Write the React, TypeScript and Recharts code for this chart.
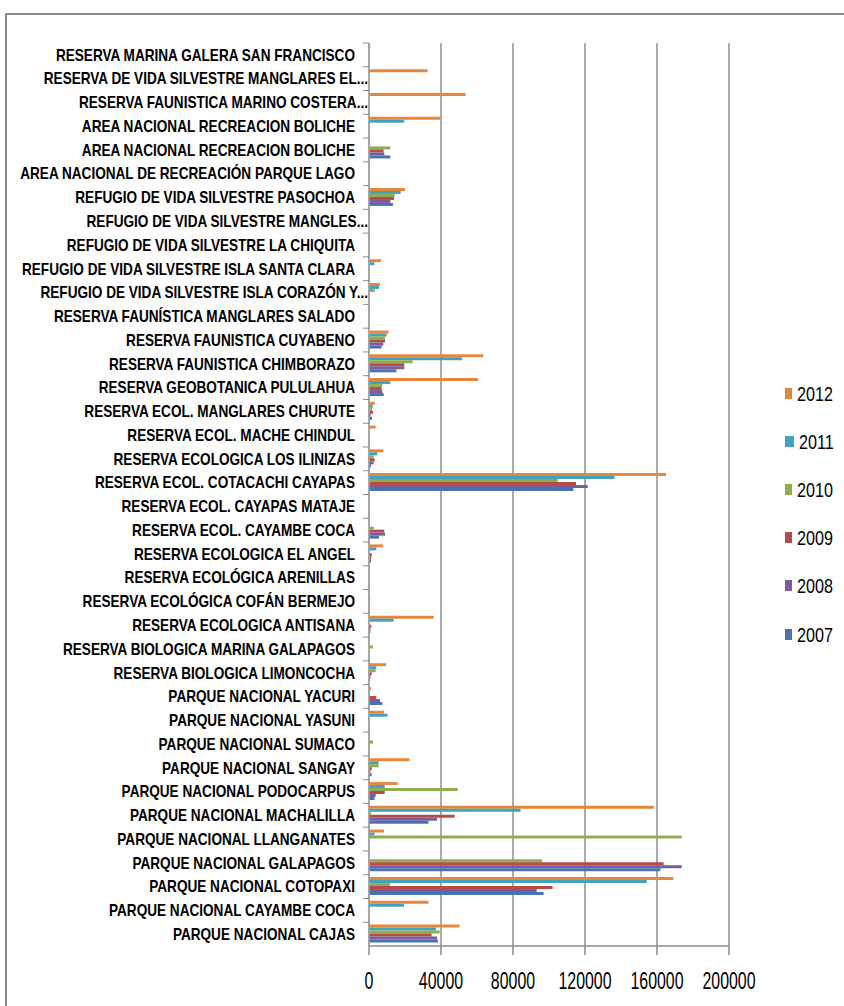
import React from 'react';
import { BarChart, Bar, XAxis, YAxis, CartesianGrid, Legend } from 'recharts';

// Visitors per protected area (top to bottom)
const categories = [
  'RESERVA MARINA GALERA SAN FRANCISCO',
  'RESERVA DE VIDA SILVESTRE MANGLARES EL...',
  'RESERVA FAUNISTICA MARINO COSTERA...',
  'AREA NACIONAL RECREACION BOLICHE',
  'AREA NACIONAL RECREACION BOLICHE',
  'AREA NACIONAL DE RECREACIÓN PARQUE LAGO',
  'REFUGIO DE VIDA SILVESTRE PASOCHOA',
  'REFUGIO DE VIDA SILVESTRE MANGLES...',
  'REFUGIO DE VIDA SILVESTRE LA CHIQUITA',
  'REFUGIO DE VIDA SILVESTRE ISLA SANTA CLARA',
  'REFUGIO DE VIDA SILVESTRE ISLA CORAZÓN Y...',
  'RESERVA FAUNÍSTICA MANGLARES SALADO',
  'RESERVA FAUNISTICA CUYABENO',
  'RESERVA FAUNISTICA CHIMBORAZO',
  'RESERVA GEOBOTANICA PULULAHUA',
  'RESERVA ECOL. MANGLARES CHURUTE',
  'RESERVA ECOL. MACHE CHINDUL',
  'RESERVA ECOLOGICA LOS ILINIZAS',
  'RESERVA ECOL. COTACACHI CAYAPAS',
  'RESERVA ECOL. CAYAPAS MATAJE',
  'RESERVA ECOL. CAYAMBE COCA',
  'RESERVA ECOLOGICA EL ANGEL',
  'RESERVA ECOLÓGICA ARENILLAS',
  'RESERVA ECOLÓGICA COFÁN BERMEJO',
  'RESERVA ECOLOGICA ANTISANA',
  'RESERVA BIOLOGICA MARINA GALAPAGOS',
  'RESERVA BIOLOGICA LIMONCOCHA',
  'PARQUE NACIONAL YACURI',
  'PARQUE NACIONAL YASUNI',
  'PARQUE NACIONAL SUMACO',
  'PARQUE NACIONAL SANGAY',
  'PARQUE NACIONAL PODOCARPUS',
  'PARQUE NACIONAL MACHALILLA',
  'PARQUE NACIONAL LLANGANATES',
  'PARQUE NACIONAL GALAPAGOS',
  'PARQUE NACIONAL COTOPAXI',
  'PARQUE NACIONAL CAYAMBE COCA',
  'PARQUE NACIONAL CAJAS',
];

const v2012 = [700, 32600, 53700, 39400, 0, 0, 20000, 0, 0, 6700, 6100, 0, 10900, 63500, 60550, 3150, 3700, 7950, 165000, 0, 0, 7800, 0, 0, 35900, 0, 9450, 1100, 8350, 0, 22400, 15900, 158300, 8350, 0, 169100, 33000, 50350];
const v2011 = [0, 0, 0, 19600, 0, 0, 17600, 0, 0, 3000, 5550, 0, 9800, 51700, 11850, 2050, 0, 4600, 136300, 0, 0, 4050, 0, 0, 13700, 0, 4050, 0, 10350, 0, 5350, 8700, 84250, 3000, 0, 154300, 19450, 37200];
const v2010 = [0, 0, 0, 0, 11850, 0, 14250, 0, 0, 0, 3150, 0, 8900, 24250, 7400, 1650, 0, 2600, 104800, 0, 2600, 0, 0, 700, 0, 2200, 3700, 0, 0, 2200, 5350, 49250, 1100, 173700, 96100, 11650, 0, 39250];
const v2009 = [0, 0, 0, 0, 8150, 0, 13900, 0, 0, 0, 0, 0, 8900, 19600, 7000, 2200, 0, 3150, 115000, 0, 8500, 1650, 0, 0, 1300, 0, 1500, 4050, 0, 0, 1500, 8700, 47600, 0, 163700, 102000, 0, 34800];
const v2008 = [0, 0, 0, 0, 8500, 0, 11850, 0, 0, 0, 0, 0, 7950, 19600, 7400, 900, 0, 2600, 121500, 0, 8900, 1100, 0, 0, 900, 0, 900, 6100, 0, 0, 750, 3700, 37800, 0, 173700, 93150, 0, 37800];
const v2007 = [0, 0, 0, 0, 11850, 0, 13300, 0, 0, 0, 0, 0, 7000, 15200, 8150, 1650, 0, 1100, 113500, 0, 5550, 1100, 0, 0, 700, 0, 550, 7400, 0, 0, 1500, 3000, 33000, 0, 161900, 97000, 0, 38300];

const xTicks = [0, 40000, 80000, 120000, 160000, 200000];

const rows = categories.map((name, i) => ({
  name,
  y2012: v2012[i],
  y2011: v2011[i],
  y2010: v2010[i],
  y2009: v2009[i],
  y2008: v2008[i],
  y2007: v2007[i],
}));

const series = [
  { key: 'y2012', label: '2012', color: '#E6873C' },
  { key: 'y2011', label: '2011', color: '#41A3BC' },
  { key: 'y2010', label: '2010', color: '#8DAD4F' },
  { key: 'y2009', label: '2009', color: '#B84A47' },
  { key: 'y2008', label: '2008', color: '#7B5D9D' },
  { key: 'y2007', label: '2007', color: '#4774B0' },
];

const FONT = '"Liberation Sans", Arial, sans-serif';
const PLOT_TOP = 43;
const PLOT_BOTTOM = 946;
const BAND = (PLOT_BOTTOM - PLOT_TOP) / categories.length;

const CategoryTick = (props: any) => {
  const { y, payload } = props;
  const label: string = payload.value;
  const anchor = label.endsWith('...') ? 368 : 355;
  return (
    <g>
      <line x1={363} x2={369} y1={y - BAND / 2} y2={y - BAND / 2} stroke="#8c8c8c" strokeWidth={1} />
      <text
        transform={`translate(${anchor},${y + 5.8}) scale(0.85,1)`}
        textAnchor="end"
        fontFamily={FONT}
        fontWeight="bold"
        fontSize={16}
        fill="#000"
      >
        {label}
      </text>
    </g>
  );
};

const ValueTick = (props: any) => {
  const { x, y, payload } = props;
  return (
    <text
      transform={`translate(${x},${y + 32}) scale(0.65,1)`}
      textAnchor="middle"
      fontFamily={FONT}
      fontSize={24.5}
      fill="#000"
    >
      {payload.value}
    </text>
  );
};

const renderLegend = (props: any) => {
  // newest year on top, like the original
  const items = [...(props.payload || [])].sort((a: any, b: any) => String(b.value).localeCompare(String(a.value)));
  return (
    <div>
      {items.map((entry: any) => (
        <div key={entry.value} style={{ height: 48.2, display: 'flex', alignItems: 'center' }}>
          <span style={{ display: 'inline-block', width: 10, height: 11, background: entry.color, marginRight: 5 }} />
          <span
            style={{
              display: 'inline-block',
              fontFamily: FONT,
              fontSize: 21,
              color: '#000',
              transform: 'scaleX(0.77)',
              transformOrigin: 'left center',
              lineHeight: 1,
            }}
          >
            {entry.value}
          </span>
        </div>
      ))}
    </div>
  );
};

export default function App() {
  return (
    <div style={{ position: 'absolute', left: 0, top: 0, width: 844, height: 1006, background: '#fff', overflow: 'hidden' }}>
      <div
        style={{
          position: 'absolute',
          left: 5,
          top: 13,
          width: 900,
          height: 1100,
          borderTop: '2px solid #8c8c8c',
          borderLeft: '2px solid #8c8c8c',
        }}
      />
      <div style={{ position: 'absolute', left: 0, top: 0 }}>
        <BarChart
          width={844}
          height={1006}
          data={rows}
          layout="vertical"
          margin={{ top: PLOT_TOP, right: 115, bottom: 0, left: 0 }}
          barCategoryGap="10%"
          barGap={0}
        >
          <CartesianGrid horizontal={false} vertical={true} stroke="#8c8c8c" strokeWidth={1.5} />
          <XAxis
            type="number"
            domain={[0, 200000]}
            ticks={xTicks}
            interval={0}
            height={60}
            axisLine={{ stroke: '#8c8c8c', strokeWidth: 1.5 }}
            tickLine={{ stroke: '#8c8c8c', strokeWidth: 1.5 }}
            tickSize={9}
            tickMargin={2}
            tick={<ValueTick />}
          />
          <YAxis
            type="category"
            dataKey="name"
            width={369}
            interval={0}
            axisLine={{ stroke: '#a6a6a6', strokeWidth: 1.5 }}
            tickLine={false}
            tick={<CategoryTick />}
          />
          <Legend
            layout="vertical"
            align="center"
            verticalAlign="middle"
            wrapperStyle={{ left: 785, top: 369, width: 59 }}
            content={renderLegend}
          />
          {series.map((s) => (
            <Bar key={s.key} dataKey={s.key} name={s.label} fill={s.color} isAnimationActive={false} />
          ))}
        </BarChart>
      </div>
    </div>
  );
}
